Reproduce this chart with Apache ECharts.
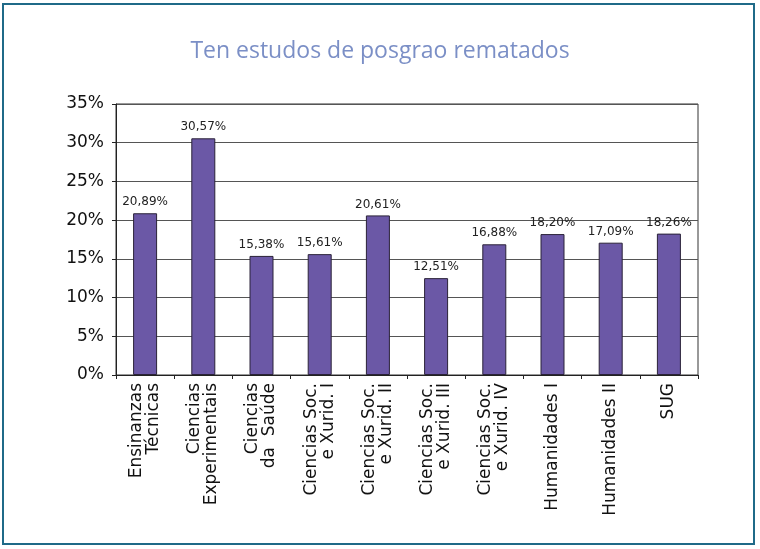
<!DOCTYPE html>
<html>
<head>
<meta charset="utf-8">
<script src="https://cdn.jsdelivr.net/npm/echarts@6/dist/echarts.min.js"></script>
<style>
  html, body { margin: 0; padding: 0; background: #fff; }
  #frame {
    position: absolute; left: 2px; top: 3px; width: 753px; height: 542px;
    border: 2px solid #1f6a88; box-sizing: border-box;
  }
  #chart { position: absolute; left: 0; top: 0; width: 760px; height: 549px; }
</style>
</head>
<body>
<div id="frame"></div>
<div id="chart"></div>
<script>
const categories = [
  'Ensinanzas\nTécnicas',
  'Ciencias\nExperimentais',
  'Ciencias\nda  Saúde',
  'Ciencias Soc.\ne Xurid. I',
  'Ciencias Soc.\ne Xurid. II',
  'Ciencias Soc.\ne Xurid. III',
  'Ciencias Soc.\ne Xurid. IV',
  'Humanidades I',
  'Humanidades II',
  'SUG'
];
const values = [20.89, 30.57, 15.38, 15.61, 20.61, 12.51, 16.88, 18.20, 17.09, 18.26];
const yTicks = [0, 5, 10, 15, 20, 25, 30, 35];

const chart = echarts.init(document.getElementById('chart'));

chart.setOption({
  animation: false,
  title: {
    text: 'Ten estudos de posgrao rematados',
    left: 'center',
    top: 35,
    textStyle: {
      color: '#7b8fc6',
      fontFamily: 'Open Sans',
      fontWeight: 'normal',
      fontSize: 23
    }
  },
  grid: { left: 116, right: 62, top: 104, bottom: 174, containLabel: false, show: true, borderColor: '#333', borderWidth: 1 },
  xAxis: {
    type: 'category',
    data: categories,
    axisLine: { lineStyle: { color: '#222' } },
    axisTick: { show: true, length: 4, lineStyle: { color: '#222' } },
    axisLabel: {
      rotate: 90,
      interval: 0,
      margin: 8,
      color: '#111',
      fontFamily: 'DejaVu Sans',
      fontSize: 17,
      lineHeight: 17
    }
  },
  yAxis: {
    type: 'value',
    min: yTicks[0],
    max: yTicks[yTicks.length - 1],
    interval: 5,
    axisLine: { show: true, lineStyle: { color: '#222' } },
    axisTick: { show: true, length: 4, lineStyle: { color: '#222' } },
    splitLine: { lineStyle: { color: '#555' } },
    axisLabel: {
      formatter: v => v + '%',
      color: '#111',
      fontFamily: 'DejaVu Sans',
      fontSize: 17,
      margin: 12
    }
  },
  series: [{
    type: 'bar',
    data: values,
    barWidth: 24,
    itemStyle: { color: '#6b58a6', borderColor: '#2a2238', borderWidth: 1 },
    label: {
      show: true,
      position: 'top',
      distance: 5,
      formatter: p => p.value.toFixed(2).replace('.', ',') + '%',
      color: '#222',
      fontFamily: 'DejaVu Sans',
      fontSize: 12
    }
  }]
});
</script>
</body>
</html>
